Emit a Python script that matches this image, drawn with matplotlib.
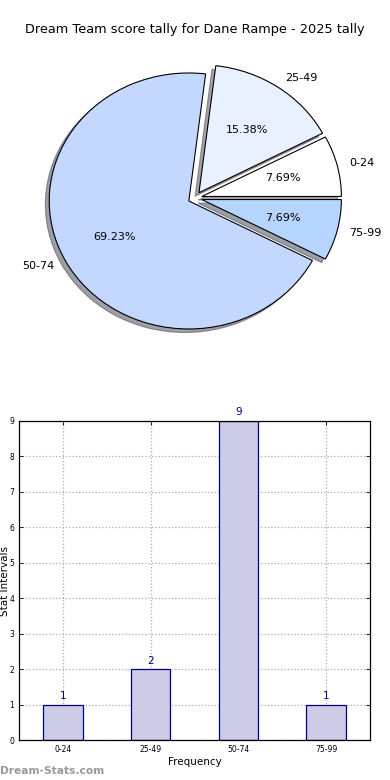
import matplotlib
matplotlib.use("Agg")
import matplotlib.pyplot as plt

# data
intervals = ["0-24", "25-49", "50-74", "75-99"]
counts = [1, 2, 9, 1]
pie_colors = ["#ffffff", "#e9f0ff", "#c4d8ff", "#b5d5ff"]
title = "Dream Team score tally for Dane Rampe - 2025 tally"

fig = plt.figure(figsize=(3.9, 7.8), dpi=100)
fig.patch.set_facecolor("white")

# pie chart (not equal aspect, slightly flattened like the original)
ax1 = fig.add_axes([20.5 / 390, 1 - 358 / 780, 349 / 390, 320 / 780])
wedges, texts, autotexts = ax1.pie(
    counts, labels=intervals, colors=pie_colors, explode=[0.05] * 4,
    autopct="%1.2f%%", shadow=True, startangle=0, labeldistance=1.09,
    wedgeprops={"edgecolor": "black", "linewidth": 0.8},
    textprops={"fontsize": 8})
ax1.set_aspect("auto")
ax1.set_xlim(-1.25, 1.25)
ax1.set_ylim(-1.25, 1.25)
fig.text(0.5, 1 - 30 / 780, title, ha="center", va="center", fontsize=9.3)

# bar chart
ax2 = fig.add_axes([19 / 390, 40 / 780, 351 / 390, 319 / 780])
x = range(len(intervals))
bars = ax2.bar(x, counts, width=0.45, color="#ccccE6", edgecolor="navy",
               linewidth=0.9, zorder=2)
for xi, c in zip(x, counts):
    ax2.text(xi, c + 0.1, str(c), ha="center", va="bottom",
             color="navy", fontsize=7.5)
ax2.set_xlim(-0.5, 3.5)
ax2.set_ylim(0, 9)
ax2.set_yticks(range(10))
ax2.set_xticks(list(x))
ax2.set_xticklabels(intervals)
ax2.tick_params(axis="both", labelsize=5.5, direction="in", top=True,
                right=True, length=3, width=0.6)
ax2.grid(True, linestyle=":", color="#aaaaaa", linewidth=0.9, zorder=0)
ax2.set_axisbelow(True)
ax2.set_xlabel("Frequency", fontsize=7.5, labelpad=2)
ax2.set_ylabel("Stat Intervals", fontsize=7.5, labelpad=0)
ax2.yaxis.set_label_coords(-0.025, 0.5)
for s in ax2.spines.values():
    s.set_linewidth(0.9)

fig.text(0.0, 1 - 771 / 780, "Dream-Stats.com", color="#999999",
         fontsize=7.7, fontweight="bold", ha="left", va="center")

fig.savefig("out.png", dpi=100)
